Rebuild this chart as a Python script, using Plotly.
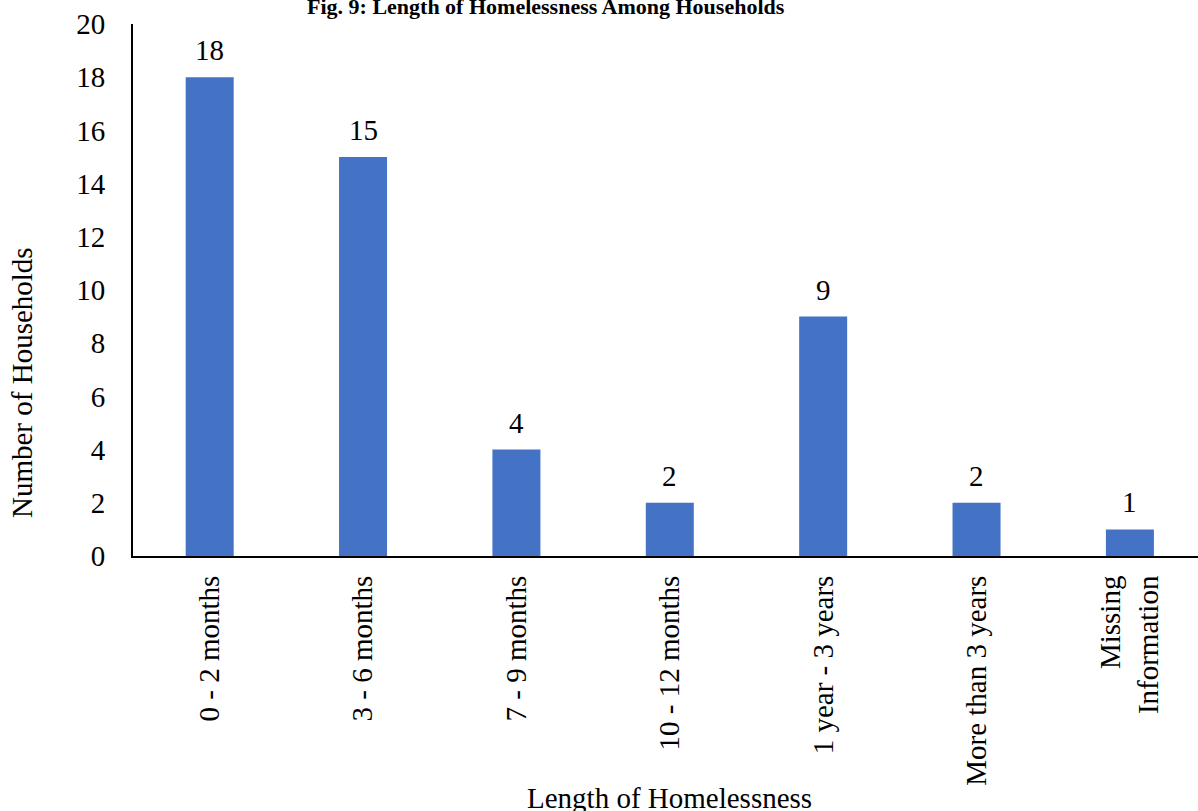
import plotly.graph_objects as go

categories = ["0 - 2 months", "3 - 6 months", "7 - 9 months", "10 - 12 months",
              "1 year - 3 years", "More than 3 years", "Missing<br>Information"]
values = [18, 15, 4, 2, 9, 2, 1]
y_ticks = [0, 2, 4, 6, 8, 10, 12, 14, 16, 18, 20]

FONT = "Liberation Serif, Times New Roman, serif"
BAR_COLOR = "#4472C4"
FS = 29

W, H = 1198, 811
L, R, T, B = 133, 0, 24, 255

fig = go.Figure()
fig.add_trace(go.Bar(
    x=list(range(len(categories))), y=values,
    marker=dict(color=BAR_COLOR, line=dict(width=0)),
    width=0.313,
    hoverinfo="skip",
))

for i, v in enumerate(values):
    fig.add_annotation(x=i, y=v, xref="x", yref="y", text=str(v),
                       showarrow=False, yanchor="bottom", yshift=9,
                       font=dict(family=FONT, size=FS, color="black"))

plot_w = W - L - R
plot_h = H - T - B

def px_to_paper_x(px):
    return (px - L) / plot_w

def px_to_paper_y(py):
    return (H - B - py) / plot_h

# Title (clipped at top as in the reference)
fig.add_annotation(xref="paper", yref="paper", x=px_to_paper_x(545.5), y=px_to_paper_y(6.5),
                   text="<b>Fig. 9: Length of Homelessness Among Households</b>",
                   showarrow=False, xanchor="center", yanchor="middle",
                   font=dict(family=FONT, size=22, color="black"))
# X axis title
fig.add_annotation(xref="paper", yref="paper", x=px_to_paper_x(669), y=px_to_paper_y(798),
                   text="Length of Homelessness", showarrow=False,
                   xanchor="center", yanchor="middle",
                   font=dict(family=FONT, size=FS, color="black"))
# Y axis title
fig.add_annotation(xref="paper", yref="paper", x=px_to_paper_x(22), y=px_to_paper_y(383),
                   text="Number of Households", showarrow=False, textangle=-90,
                   xanchor="center", yanchor="middle",
                   font=dict(family=FONT, size=FS, color="black"))

fig.update_layout(
    width=W, height=H,
    margin=dict(l=L, r=R, t=T, b=B, pad=0),
    plot_bgcolor="white", paper_bgcolor="white",
    showlegend=False,
    font=dict(family=FONT, size=FS, color="black"),
)
fig.update_xaxes(
    tickmode="array", tickvals=list(range(len(categories))), ticktext=categories,
    range=[-0.5, 6.444], tickangle=-90,
    showline=True, linecolor="black", linewidth=2,
    showgrid=False, zeroline=False, ticks="", ticklabelstandoff=6,
    tickfont=dict(family=FONT, size=FS, color="black"),
)
fig.update_yaxes(
    range=[0, 20], tickmode="array", tickvals=y_ticks,
    showline=True, linecolor="black", linewidth=2,
    showgrid=False, zeroline=False, ticks="", ticklabelstandoff=20,
    tickfont=dict(family=FONT, size=FS, color="black"),
)

fig.write_html("out.html",
               config={"displayModeBar": False},
               post_script="document.body.style.margin='0';document.body.style.overflow='hidden';")
